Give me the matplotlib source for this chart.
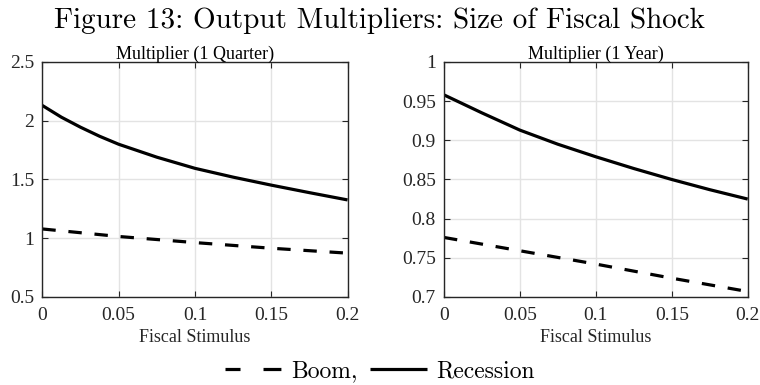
import matplotlib
matplotlib.use("Agg")
import matplotlib.pyplot as plt
from matplotlib.lines import Line2D

# ---- data ----
stim_rec_q = [0, 0.0125, 0.025, 0.0375, 0.05, 0.075, 0.1, 0.125, 0.15, 0.175, 0.2]
rec_q = [2.13, 2.03, 1.945, 1.868, 1.80, 1.69, 1.595, 1.52, 1.452, 1.388, 1.326]
stim_boom_q = [0, 0.05, 0.1, 0.15, 0.2]
boom_q = [1.079, 1.015, 0.963, 0.915, 0.873]

stim_rec_y = [0, 0.025, 0.05, 0.075, 0.1, 0.125, 0.15, 0.175, 0.2]
rec_y = [0.958, 0.935, 0.913, 0.895, 0.879, 0.864, 0.850, 0.837, 0.825]
stim_boom_y = [0, 0.05, 0.1, 0.15, 0.2]
boom_y = [0.776, 0.759, 0.742, 0.724, 0.707]

xticks = [0, 0.05, 0.1, 0.15, 0.2]
xticklabels = ["0", "0.05", "0.1", "0.15", "0.2"]
yticks_q = [0.5, 1, 1.5, 2, 2.5]
yticklabels_q = ["0.5", "1", "1.5", "2", "2.5"]
yticks_y = [0.7, 0.75, 0.8, 0.85, 0.9, 0.95, 1]
yticklabels_y = ["0.7", "0.75", "0.8", "0.85", "0.9", "0.95", "1"]

titles = ["Multiplier (1 Quarter)", "Multiplier (1 Year)"]
xlabel = "Fiscal Stimulus"
suptitle = "Figure 13: Output Multipliers: Size of Fiscal Shock"
legend_labels = ["Boom,", "Recession"]

# ---- style ----
serif = "Liberation Serif"
cm = "cmr10"
axcol = "#262626"
lw = 2.3
dash = (0, (4.2, 4.0))

fig = plt.figure(figsize=(7.6, 3.85), dpi=100)
ax1 = fig.add_axes([0.0557, 0.2286, 0.4016, 0.6104])
ax2 = fig.add_axes([0.5842, 0.2286, 0.3996, 0.6104])

panels = [
    (ax1, stim_rec_q, rec_q, stim_boom_q, boom_q, yticks_q, yticklabels_q, (0.5, 2.5)),
    (ax2, stim_rec_y, rec_y, stim_boom_y, boom_y, yticks_y, yticklabels_y, (0.7, 1.0)),
]

for i, (ax, xr, yr, xb, yb, yt, ytl, ylim) in enumerate(panels):
    ax.plot(xr, yr, color="black", lw=lw, solid_capstyle="butt", solid_joinstyle="round")
    ax.plot(xb, yb, color="black", lw=lw, linestyle=dash, dash_capstyle="butt")
    ax.set_xlim(0, 0.2)
    ax.set_ylim(*ylim)
    ax.set_xticks(xticks)
    ax.set_xticklabels(xticklabels, fontfamily=serif, fontsize=14, color=axcol)
    ax.set_yticks(yt)
    ax.set_yticklabels(ytl, fontfamily=serif, fontsize=14, color=axcol)
    ax.grid(True, color="#e3e3e3", lw=1.0)
    ax.set_axisbelow(True)
    for s in ax.spines.values():
        s.set_color(axcol)
        s.set_linewidth(1.0)
    ax.tick_params(direction="in", length=4, width=0.8, color=axcol,
                   top=True, right=True)
    ax.tick_params(axis="x", pad=7)
    ax.tick_params(axis="y", pad=6)
    ax.set_title(titles[i], fontfamily=serif, fontsize=13, color="black", pad=2)
    ax.set_xlabel(xlabel, fontfamily=serif, fontsize=13, color=axcol, labelpad=3.5)

fig.text(0.5, 0.945, suptitle, ha="center", va="center", fontfamily=cm, fontsize=21)

handles = [
    Line2D([], [], color="black", lw=lw, linestyle=(0, (4.7, 7.2, 5.6, 40)),
           dash_capstyle="butt"),
    Line2D([], [], color="black", lw=lw, solid_capstyle="butt"),
]
fig.legend(handles, legend_labels, loc="center", bbox_to_anchor=(0.5, 0.035),
           ncol=2, frameon=False, prop={"family": cm, "size": 17},
           handlelength=2.4, handletextpad=0.4, columnspacing=0.5,
           borderpad=0, borderaxespad=0)

fig.savefig("out.png", dpi=100)
